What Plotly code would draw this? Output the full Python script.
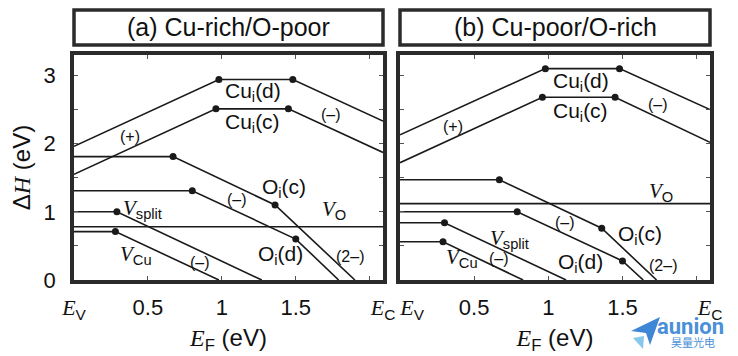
import plotly.graph_objects as go

EC = 2.09

# ---------------- Panel (a) Cu-rich/O-poor ----------------
a_cuid_x = [0, 0.98, 1.48, EC]
a_cuid_y = [1.96, 2.94, 2.94, 2.33]
a_cuic_x = [0, 0.96, 1.45, EC]
a_cuic_y = [1.55, 2.51, 2.51, 1.87]
a_oic_x = [0, 0.67, 1.36, 1.90]
a_oic_y = [1.81, 1.81, 1.10, 0.0]
a_oid_x = [0, 0.80, 1.50, 1.79]
a_oid_y = [1.31, 1.31, 0.60, 0.0]
a_vsplit_x = [0, 0.29, 1.27]
a_vsplit_y = [1.00, 1.00, 0.0]
a_vcu_x = [0, 0.28, 0.98]
a_vcu_y = [0.71, 0.71, 0.0]
a_vo_x = [0, EC]
a_vo_y = [0.78, 0.78]

# ---------------- Panel (b) Cu-poor/O-rich ----------------
b_cuid_x = [0, 0.98, 1.48, EC]
b_cuid_y = [2.13, 3.10, 3.10, 2.50]
b_cuic_x = [0, 0.96, 1.45, EC]
b_cuic_y = [1.72, 2.68, 2.68, 2.02]
b_oic_x = [0, 0.67, 1.36, 1.73]
b_oic_y = [1.47, 1.47, 0.76, 0.0]
b_oid_x = [0, 0.79, 1.50, 1.64]
b_oid_y = [1.00, 1.00, 0.28, 0.0]
b_vsplit_x = [0, 0.30, 1.12]
b_vsplit_y = [0.84, 0.84, 0.0]
b_vcu_x = [0, 0.29, 0.83]
b_vcu_y = [0.56, 0.56, 0.0]
b_vo_x = [0, EC]
b_vo_y = [1.12, 1.12]

# which vertices carry a transition-level dot (indices)
dot_idx = {"cuid": [1, 2], "cuic": [1, 2], "oic": [1, 2], "oid": [1, 2],
           "vsplit": [1], "vcu": [1], "vo": []}

panel_titles = ["(a) Cu-rich/O-poor", "(b) Cu-poor/O-rich"]
x_tickvals = [0, 0.5, 1.0, 1.5, 2.0, EC]
SER = "font-family:'Liberation Serif','DejaVu Serif',serif"
EV = f"<span style=\"{SER}\"><i>E</i></span><sub>V</sub>"
ECL = f"<span style=\"{SER}\"><i>E</i></span><sub>C</sub>"
x_ticktext_a = [EV, "0.5", "1", "1.5", "", ECL]
x_ticktext_b = ["&nbsp;&nbsp;&nbsp;&nbsp;" + EV, "0.5", "1", "1.5", "", ECL]
y_tickvals = [0, 0.5, 1, 1.5, 2, 2.5, 3]
y_ticktext = ["0", "", "1", "", "2", "", "3"]

VI = f"<span style=\"{SER}\"><i>V</i></span>"
L, C = 21, 16
labels_a = [
    ("Cu<sub>i</sub>(d)", 1.21, 2.76, L), ("Cu<sub>i</sub>(c)", 1.21, 2.31, L),
    ("(+)", 0.38, 2.10, C), ("(–)", 1.74, 2.43, C),
    ("O<sub>i</sub>(c)", 1.42, 1.35, L), ("(–)", 1.10, 1.18, C),
    (VI + "<sub>O</sub>", 1.76, 1.03, L), (VI + "<sub>split</sub>", 0.46, 1.04, L),
    (VI + "<sub>Cu</sub>", 0.42, 0.37, L), ("(–)", 0.85, 0.26, C),
    ("O<sub>i</sub>(d)", 1.40, 0.36, L), ("(2–)", 1.87, 0.34, C),
]
labels_b = [
    ("Cu<sub>i</sub>(d)", 1.22, 2.91, L), ("Cu<sub>i</sub>(c)", 1.22, 2.47, L),
    ("(+)", 0.36, 2.25, C), ("(–)", 1.74, 2.57, C),
    (VI + "<sub>O</sub>", 1.76, 1.29, L), ("(–)", 1.11, 0.85, C),
    ("O<sub>i</sub>(c)", 1.62, 0.66, L), (VI + "<sub>split</sub>", 0.74, 0.60, L),
    (VI + "<sub>Cu</sub>", 0.42, 0.32, L), ("(–)", 0.67, 0.32, C),
    ("O<sub>i</sub>(d)", 1.22, 0.25, L), ("(2–)", 1.77, 0.22, C),
]

LINE = "#1a1a1a"
FRAME = "#2b2b2b"
FONT = "Liberation Sans, Arial, sans-serif"

fig = go.Figure()

panels = [
    ("x", "y", {"cuid": (a_cuid_x, a_cuid_y), "cuic": (a_cuic_x, a_cuic_y),
                "oic": (a_oic_x, a_oic_y), "oid": (a_oid_x, a_oid_y),
                "vsplit": (a_vsplit_x, a_vsplit_y), "vcu": (a_vcu_x, a_vcu_y),
                "vo": (a_vo_x, a_vo_y)}),
    ("x2", "y2", {"cuid": (b_cuid_x, b_cuid_y), "cuic": (b_cuic_x, b_cuic_y),
                  "oic": (b_oic_x, b_oic_y), "oid": (b_oid_x, b_oid_y),
                  "vsplit": (b_vsplit_x, b_vsplit_y), "vcu": (b_vcu_x, b_vcu_y),
                  "vo": (b_vo_x, b_vo_y)}),
]

for xa, ya, series in panels:
    for key, (xs, ys) in series.items():
        fig.add_trace(go.Scatter(x=xs, y=ys, mode="lines", xaxis=xa, yaxis=ya,
                                 line=dict(color=LINE, width=1.6),
                                 showlegend=False, hoverinfo="skip", cliponaxis=True))
        idx = dot_idx[key]
        if idx:
            fig.add_trace(go.Scatter(x=[xs[i] for i in idx], y=[ys[i] for i in idx],
                                     mode="markers", xaxis=xa, yaxis=ya,
                                     marker=dict(color=LINE, size=7),
                                     showlegend=False, hoverinfo="skip"))

for (txt, x, y, s) in labels_a:
    fig.add_annotation(text=txt, x=x, y=y, xref="x", yref="y", showarrow=False,
                       xanchor="center", yanchor="middle",
                       font=dict(size=s, color="#111", family=FONT))
for (txt, x, y, s) in labels_b:
    fig.add_annotation(text=txt, x=x, y=y, xref="x2", yref="y2", showarrow=False,
                       xanchor="center", yanchor="middle",
                       font=dict(size=s, color="#111", family=FONT))

dom_a = [0, 309 / 636]
dom_b = [326 / 636, 1]

axis_common = dict(range=[0, EC], showline=True, linewidth=3.5, linecolor=FRAME,
                   mirror="allticks", ticks="inside", ticklen=4, tickwidth=1,
                   tickcolor="#555", showgrid=False, zeroline=False,
                   tickvals=x_tickvals, automargin=False, ticklabelstandoff=5,
                   tickfont=dict(size=22, color="#111", family=FONT))
yaxis_common = dict(range=[0, 3.3], showline=True, linewidth=3.5, linecolor=FRAME,
                    mirror="allticks", ticks="inside", ticklen=4, tickwidth=1,
                    tickcolor="#555", showgrid=False, zeroline=False,
                    tickvals=y_tickvals, ticktext=y_ticktext, automargin=False,
                    tickfont=dict(size=22, color="#111", family=FONT))

xtitle = f"<span style=\"{SER}\"><i>E</i></span><sub>F</sub> (eV)"
# The page body has an 8px default margin: figure is 730x348 so that the
# plot area lands on x 74..710, y 55..280 of the 738x356 window.
fig.update_layout(
    width=730, height=348,
    margin=dict(l=66, r=28, t=47, b=76, autoexpand=False),
    paper_bgcolor="white", plot_bgcolor="white",
    xaxis=dict(domain=dom_a, anchor="y", ticktext=x_ticktext_a,
               title=dict(text=xtitle, font=dict(size=24, color="#111", family=FONT), standoff=8),
               **axis_common),
    xaxis2=dict(domain=dom_b, anchor="y2", ticktext=x_ticktext_b,
                title=dict(text=xtitle, font=dict(size=24, color="#111", family=FONT), standoff=8),
                **axis_common),
    yaxis=dict(domain=[0, 1], anchor="x", ticklabelstandoff=10,
               title=dict(text=f"Δ<span style=\"{SER}\"><i>H</i></span> (eV)",
                          font=dict(size=24, color="#111", family=FONT), standoff=14),
               **yaxis_common),
    yaxis2=dict(domain=[0, 1], anchor="x2", showticklabels=False, **yaxis_common),
)

# title boxes above each panel
for dom, title in zip([dom_a, dom_b], panel_titles):
    fig.add_shape(type="rect", xref="paper", yref="paper",
                  x0=dom[0], x1=dom[1], y0=(280 - 45) / 225, y1=(280 - 10) / 225,
                  line=dict(color=FRAME, width=3.5), fillcolor="white", layer="below")
    fig.add_annotation(text=title, xref="paper", yref="paper",
                       x=(dom[0] + dom[1]) / 2, y=(280 - 27.5) / 225,
                       xanchor="center", yanchor="middle",
                       showarrow=False, font=dict(size=25, color="#111", family=FONT))

# watermark
fig.add_shape(type="path", xref="paper", yref="paper",
              path="M 0.8758,-0.2267 L 0.9214,-0.1644 L 0.9057,-0.2889 L 0.8994,-0.2356 Z",
              fillcolor="#3f86d6", line=dict(width=0), layer="above")
fig.add_shape(type="path", xref="paper", yref="paper",
              path="M 0.8789,-0.2578 L 0.8962,-0.2489 L 0.8947,-0.3067 Z",
              fillcolor="#86c8ee", line=dict(width=0), layer="above")
fig.add_annotation(text="<b>aunion</b>", xref="paper", yref="paper",
                   x=(726 - 74) / 636, y=(280 - 326) / 225,
                   xanchor="right", yanchor="middle", showarrow=False,
                   font=dict(size=22, color="#4a8fd8", family="Roboto, sans-serif"))
fig.add_annotation(text="昊量光电", xref="paper", yref="paper",
                   x=(693 - 74) / 636, y=(280 - 342) / 225,
                   xanchor="center", yanchor="middle", showarrow=False,
                   font=dict(size=11, color="#4a8fd8", family="Noto Sans CJK SC"))

fig.write_html("out.html")
